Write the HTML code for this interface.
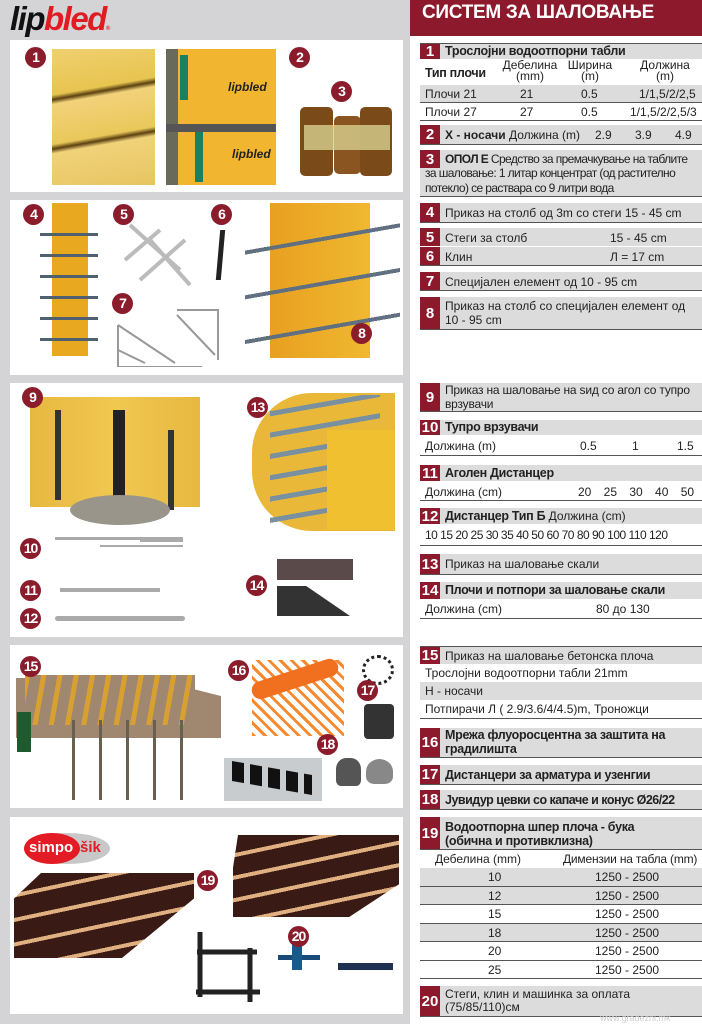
<!DOCTYPE html>
<html><head><meta charset="utf-8"><style>
*{margin:0;padding:0;box-sizing:border-box}
body{width:702px;height:1024px;position:relative;overflow:hidden;background:#fff;font-family:"Liberation Sans","DejaVu Sans",sans-serif;}
.a{position:absolute}
.lp{position:absolute;left:0;top:0;width:410px;height:1024px;background:#d4d4d6}
.pn{position:absolute;left:10px;width:393px;background:#fff}
.b{position:absolute;width:21px;height:21px;border-radius:50%;background:#8a1c2c;color:#fff;font-weight:bold;font-size:14px;text-align:center;line-height:21px;letter-spacing:-1px}
.hdr{position:absolute;left:410px;top:0;width:292px;height:36px;background:#8c1a2c;color:#fff;font-weight:bold;font-size:19px;padding:2px 0 0 12px;letter-spacing:-0.3px}
.r{position:absolute;left:420px;width:282px;font-size:12px;color:#222;white-space:nowrap}
.g{background:#dcdcdd}
.ln{border-bottom:1.5px solid #555}
.n{position:absolute;left:0;top:0;bottom:0;width:20px;background:#8c1a2c;color:#fff;font-weight:bold;font-size:15px;display:flex;align-items:center;justify-content:center}
.t{position:absolute;left:25px}
.bd{font-weight:bold;font-size:12.5px;letter-spacing:-0.3px}
</style></head><body>
<div class="lp"></div>
<div class="a" style="left:10px;top:0px;font-size:33px;font-weight:bold;font-style:italic;letter-spacing:-1.5px"><span style="color:#111">lip</span><span style="color:#e01b22">bled</span><span style="font-size:6px;color:#e01b22">®</span></div>
<div class="hdr">СИСТЕМ ЗА ШАЛОВАЊЕ</div>

<div class="pn" style="top:40px;height:152px"></div>
<div class="pn" style="top:200px;height:175px"></div>
<div class="pn" style="top:383px;height:254px"></div>
<div class="pn" style="top:645px;height:163px"></div>
<div class="pn" style="top:817px;height:197px"></div>

<div class="a" style="left:52px;top:49px;width:103px;height:136px;background:linear-gradient(170deg,#f0d070 0%,#e8c450 30%,#5a4010 33%,#f2d27a 36%,#e9c85a 62%,#5a4010 65%,#f0d27a 68%,#e6c560 100%)"></div>
<div class="a" style="left:166px;top:49px;width:110px;height:136px;background:#f2b530"></div>
<div class="a" style="left:166px;top:49px;width:12px;height:136px;background:#6a6a5a"></div>
<div class="a" style="left:166px;top:124px;width:110px;height:8px;background:#555"></div>
<div class="a" style="left:180px;top:55px;width:8px;height:45px;background:#1a8060"></div>
<div class="a" style="left:195px;top:132px;width:8px;height:50px;background:#1a8060"></div>
<div class="a" style="left:228px;top:80px;font-size:12px;font-weight:bold;font-style:italic;color:#222">lipbled</div>
<div class="a" style="left:232px;top:147px;font-size:12px;font-weight:bold;font-style:italic;color:#222">lipbled</div>
<div class="a" style="left:300px;top:107px;width:33px;height:69px;background:#7a4a18;border-radius:5px"></div>
<div class="a" style="left:334px;top:116px;width:27px;height:58px;background:#8a5520;border-radius:5px"></div>
<div class="a" style="left:360px;top:107px;width:32px;height:69px;background:#7a4a18;border-radius:5px"></div>
<div class="a" style="left:304px;top:125px;width:86px;height:25px;background:#d8d090;opacity:.8"></div>

<div class="a" style="left:52px;top:203px;width:36px;height:153px;background:#e8a820"></div>
<div class="a" style="left:40px;top:215px;width:58px;height:140px;background:repeating-linear-gradient(180deg,transparent 0 18px,#506070 18px 21px)"></div>
<svg class="a" style="left:120px;top:220px" width="80" height="70"><g stroke="#bbb" stroke-width="4" fill="none"><path d="M10 5 L60 50 M20 60 L65 20 M5 40 L40 10 M30 20 L70 65"/></g></svg>
<div class="a" style="left:218px;top:230px;width:5px;height:50px;background:#222;transform:skewX(-5deg)"></div>
<svg class="a" style="left:115px;top:305px" width="120" height="62"><g stroke="#999" stroke-width="2" fill="none"><path d="M3 20 V62 H87 M3 20 L60 58 M3 45 L30 58 M62 5 H103 V55 M62 10 L100 50"/></g></svg>
<div class="a" style="left:270px;top:203px;width:100px;height:155px;background:linear-gradient(90deg,#e8a020,#f0b830)"></div>
<div class="a" style="left:245px;top:210px;width:155px;height:145px;background:repeating-linear-gradient(170deg,transparent 0 40px,#607080 40px 44px)"></div>

<div class="a" style="left:30px;top:397px;width:170px;height:110px;background:linear-gradient(90deg,#e8b840,#f0c850 50%,#e8b840)"></div>
<div class="a" style="left:55px;top:410px;width:6px;height:90px;background:#333"></div>
<div class="a" style="left:113px;top:410px;width:12px;height:95px;background:#222"></div>
<div class="a" style="left:168px;top:430px;width:6px;height:80px;background:#333"></div>
<div class="a" style="left:70px;top:495px;width:100px;height:30px;background:#9a958a;border-radius:50%"></div>
<div class="a" style="left:252px;top:393px;width:143px;height:138px;background:#eab838;border-radius:60px 0 0 60px"></div>
<div class="a" style="left:270px;top:395px;width:110px;height:130px;background:repeating-linear-gradient(170deg,transparent 0 16px,#7890a0 16px 21px)"></div>
<div class="a" style="left:327px;top:430px;width:68px;height:100px;background:#f0c030"></div>
<div class="a" style="left:55px;top:537px;width:128px;height:3px;background:#aaa"></div>
<div class="a" style="left:100px;top:545px;width:83px;height:2px;background:#aaa"></div>
<div class="a" style="left:140px;top:540px;width:43px;height:2px;background:#aaa"></div>
<div class="a" style="left:60px;top:588px;width:100px;height:4px;background:#aaa"></div>
<div class="a" style="left:55px;top:616px;width:130px;height:5px;background:#aaa;border-radius:3px"></div>
<div class="a" style="left:277px;top:559px;width:76px;height:21px;background:#5a4a4a"></div>
<div class="a" style="left:277px;top:586px;width:73px;height:30px;background:#333;clip-path:polygon(0 0,40% 0,100% 100%,0 100%)"></div>

<div class="a" style="left:16px;top:678px;width:205px;height:60px;background:#a08870;clip-path:polygon(0 0,65% 0,100% 30%,100% 100%,0 100%)"></div>
<div class="a" style="left:25px;top:675px;width:170px;height:50px;background:repeating-linear-gradient(100deg,#d8a030 0 5px,#a08870 5px 16px)"></div>
<div class="a" style="left:48px;top:720px;width:150px;height:80px;background:repeating-linear-gradient(90deg,transparent 0 24px,#6a6050 24px 27px)"></div>
<div class="a" style="left:17px;top:712px;width:14px;height:40px;background:#1f5a2e"></div>
<div class="a" style="left:252px;top:660px;width:92px;height:76px;background:repeating-linear-gradient(45deg,#f58a30 0 3px,#fff 3px 8px)"></div>
<div class="a" style="left:250px;top:670px;width:90px;height:18px;background:#f07020;border-radius:9px;transform:rotate(-18deg)"></div>
<div class="a" style="left:362px;top:655px;width:32px;height:30px;border:3px dotted #222;border-radius:50%"></div>
<div class="a" style="left:364px;top:704px;width:30px;height:35px;background:#333;border-radius:4px"></div>
<div class="a" style="left:224px;top:758px;width:98px;height:43px;background:#c8cccf"></div>
<div class="a" style="left:232px;top:768px;width:80px;height:20px;background:repeating-linear-gradient(90deg,#111 0 12px,transparent 12px 18px);transform:skewY(10deg)"></div>
<div class="a" style="left:336px;top:758px;width:25px;height:28px;background:#555;border-radius:40% 40% 20% 20%"></div>
<div class="a" style="left:366px;top:759px;width:27px;height:25px;background:#888;border-radius:50% 50% 30% 30%"></div>

<div class="a" style="left:24px;top:833px;width:86px;height:31px;background:#c8c8c8;border-radius:50%"></div>
<div class="a" style="left:24px;top:833px;width:56px;height:31px;background:#e21b24;border-radius:50%"></div>
<div class="a" style="left:29px;top:839px;font-size:15px;font-weight:bold;color:#fff">simpo</div>
<div class="a" style="left:80px;top:839px;font-size:15px;font-weight:bold;color:#e21b24">šik</div>
<div class="a" style="left:14px;top:873px;width:180px;height:85px;background:repeating-linear-gradient(168deg,#3a1a14 0 20px,#e0b080 20px 24px);clip-path:polygon(15% 0,100% 0,100% 30%,60% 100%,0 100%,0 30%)"></div>
<div class="a" style="left:233px;top:835px;width:166px;height:82px;background:repeating-linear-gradient(168deg,#3a1a14 0 18px,#e0b080 18px 22px);clip-path:polygon(3% 0,100% 0,100% 60%,70% 100%,0 100%,0 40%)"></div>
<svg class="a" style="left:192px;top:932px" width="70" height="80"><g stroke="#222" stroke-width="5" fill="none"><path d="M8 0 V65 M5 20 H65 M4 60 H68 M58 16 V70"/></g></svg>
<div class="a" style="left:278px;top:955px;width:42px;height:5px;background:#1a4a7a"></div>
<div class="a" style="left:292px;top:945px;width:10px;height:25px;background:#1a5a8a"></div>
<div class="a" style="left:338px;top:963px;width:55px;height:7px;background:#203050"></div>

<div class="b" style="left:25px;top:47px">1</div>
<div class="b" style="left:289px;top:47px">2</div>
<div class="b" style="left:331px;top:81px">3</div>
<div class="b" style="left:23px;top:204px">4</div>
<div class="b" style="left:113px;top:204px">5</div>
<div class="b" style="left:211px;top:204px">6</div>
<div class="b" style="left:112px;top:293px">7</div>
<div class="b" style="left:351px;top:323px">8</div>
<div class="b" style="left:22px;top:387px">9</div>
<div class="b" style="left:247px;top:397px">13</div>
<div class="b" style="left:20px;top:538px">10</div>
<div class="b" style="left:20px;top:580px">11</div>
<div class="b" style="left:20px;top:608px">12</div>
<div class="b" style="left:246px;top:575px">14</div>
<div class="b" style="left:20px;top:656px">15</div>
<div class="b" style="left:228px;top:660px">16</div>
<div class="b" style="left:357px;top:680px">17</div>
<div class="b" style="left:317px;top:734px">18</div>
<div class="b" style="left:197px;top:870px">19</div>
<div class="b" style="left:288px;top:926px">20</div>

<div class="r g" style="top:43px;height:16px;border-top:1px solid #555"><div class="n">1</div><div class="t bd" style="top:0">Трослојни водоотпорни табли</div></div>
<div class="r" style="top:59px;height:26px"><div class="a bd" style="left:5px;top:7px">Тип плочи</div><div class="a" style="left:75px;top:1px;width:70px;text-align:center;line-height:11px">Дебелина<br>(mm)</div><div class="a" style="left:140px;top:1px;width:60px;text-align:center;line-height:11px">Ширина<br>(m)</div><div class="a" style="left:205px;top:1px;width:80px;text-align:center;line-height:11px">Должина<br>(m)</div></div>
<div class="r g ln" style="top:85px;height:18px"><span class="a" style="left:5px;top:2px">Плочи 21</span><span class="a" style="left:100px;top:2px">21</span><span class="a" style="left:161px;top:2px">0.5</span><span class="a" style="left:219px;top:2px">1/1,5/2/2,5</span></div>
<div class="r ln" style="top:103px;height:18px"><span class="a" style="left:5px;top:2px">Плочи 27</span><span class="a" style="left:100px;top:2px">27</span><span class="a" style="left:161px;top:2px">0.5</span><span class="a" style="left:210px;top:2px">1/1,5/2/2,5/3</span></div>
<div class="r g ln" style="top:125px;height:20px"><div class="n">2</div><span class="t" style="top:3px"><b>Х - носачи</b> Должина (m)</span><span class="a" style="left:175px;top:3px">2.9</span><span class="a" style="left:215px;top:3px">3.9</span><span class="a" style="left:255px;top:3px">4.9</span></div>
<div class="r g ln" style="top:150px;height:47px"><div class="n" style="bottom:auto;height:18px">3</div><div class="t" style="top:2px;line-height:14.5px;letter-spacing:-0.6px"><b>ОПОЛ Е</b> Средство за премачкување на таблите</div><div class="a" style="left:5px;top:16px;line-height:14.5px;letter-spacing:-0.6px">за шаловање: 1 литар концентрат (од растително<br>потекло) се раствара со 9 литри вода</div></div>
<div class="r g ln" style="top:203px;height:20px"><div class="n">4</div><span class="t" style="top:3px">Приказ на столб од 3m со стеги 15 - 45 cm</span></div>
<div class="r g" style="top:228px;height:19px;border-bottom:1px solid #fff"><div class="n">5</div><span class="t" style="top:3px">Стеги за столб</span><span class="a" style="left:190px;top:3px">15 - 45 cm</span></div>
<div class="r g ln" style="top:247px;height:19px"><div class="n">6</div><span class="t" style="top:3px">Клин</span><span class="a" style="left:190px;top:3px">Л = 17 cm</span></div>
<div class="r g ln" style="top:272px;height:19px"><div class="n">7</div><span class="t" style="top:3px">Специјален елемент од 10 - 95 cm</span></div>
<div class="r g ln" style="top:297px;height:33px"><div class="n">8</div><div class="t" style="top:2px;line-height:14px">Приказ на столб со специјален елемент од<br>10 - 95 cm</div></div>

<div class="r g ln" style="top:383px;height:29px"><div class="n">9</div><div class="t" style="top:1px;line-height:13.5px;letter-spacing:-0.2px">Приказ на шаловање на ѕид со агол со тупро<br>врзувачи</div></div>
<div class="r g" style="top:420px;height:15px"><div class="n">10</div><span class="t bd" style="top:0">Тупро врзувачи</span></div>
<div class="r ln" style="top:435px;height:21px"><span class="a" style="left:5px;top:4px">Должина (m)</span><span class="a" style="left:160px;top:4px">0.5</span><span class="a" style="left:212px;top:4px">1</span><span class="a" style="left:257px;top:4px">1.5</span></div>
<div class="r g" style="top:465px;height:16px"><div class="n">11</div><span class="t bd" style="top:1px">Аголен Дистанцер</span></div>
<div class="r ln" style="top:481px;height:20px"><span class="a" style="left:5px;top:4px">Должина (cm)</span><span class="a" style="left:158px;top:4px;word-spacing:9px">20 25 30 40 50</span></div>
<div class="r g" style="top:508px;height:16px"><div class="n">12</div><span class="t" style="top:1px"><b class="bd">Дистанцер Тип Б</b> Должина (cm)</span></div>
<div class="r ln" style="top:524px;height:22px"><span class="a" style="left:5px;top:4px;letter-spacing:-0.5px">10 15 20 25 30 35 40 50 60 70 80 90 100 110 120</span></div>
<div class="r g ln" style="top:554px;height:21px"><div class="n">13</div><span class="t" style="top:3px">Приказ на шаловање скали</span></div>
<div class="r g" style="top:582px;height:17px"><div class="n">14</div><span class="t bd" style="top:1px">Плочи и потпори за шаловање скали</span></div>
<div class="r ln" style="top:599px;height:20px"><span class="a" style="left:5px;top:3px">Должина (cm)</span><span class="a" style="left:176px;top:3px">80 до 130</span></div>

<div class="r g" style="top:646px;height:18px;border-top:1px solid #555"><div class="n">15</div><span class="t" style="top:2px">Приказ на шаловање бетонска плоча</span></div>
<div class="r" style="top:664px;height:18px"><span class="a" style="left:5px;top:2px">Трослојни водоотпорни табли 21mm</span></div>
<div class="r g" style="top:682px;height:18px"><span class="a" style="left:5px;top:2px">Н - носачи</span></div>
<div class="r ln" style="top:700px;height:19px"><span class="a" style="left:5px;top:2px">Потпирачи Л ( 2.9/3.6/4/4.5)m, Троножци</span></div>
<div class="r g ln" style="top:728px;height:30px"><div class="n">16</div><div class="t bd" style="top:1px;line-height:13.5px">Мрежа флуоросцентна за заштита на<br>градилишта</div></div>
<div class="r g ln" style="top:765px;height:20px"><div class="n">17</div><span class="t bd" style="top:3px">Дистанцери за арматура и узенгии</span></div>
<div class="r g ln" style="top:790px;height:20px"><div class="n">18</div><span class="t bd" style="top:3px;letter-spacing:-0.5px">Јувидур цевки со капаче и конус Ø26/22</span></div>
<div class="r g ln" style="top:817px;height:33px"><div class="n">19</div><div class="t bd" style="top:3px;line-height:14px">Водоотпорна шпер плоча - бука<br>(обична и противклизна)</div></div>
<div class="r" style="top:850px;height:18px"><span class="a" style="left:15px;top:2px">Дебелина (mm)</span><span class="a" style="left:143px;top:2px;letter-spacing:-0.2px">Димензии на табла (mm)</span></div>
<div class="r g ln" style="top:868px;height:18.5px"><span class="a" style="left:68px;top:2px">10</span><span class="a" style="left:175px;top:2px">1250 - 2500</span></div>
<div class="r g ln" style="top:886.5px;height:18.5px"><span class="a" style="left:68px;top:2px">12</span><span class="a" style="left:175px;top:2px">1250 - 2500</span></div>
<div class="r ln" style="top:905px;height:18.5px"><span class="a" style="left:68px;top:2px">15</span><span class="a" style="left:175px;top:2px">1250 - 2500</span></div>
<div class="r g ln" style="top:923.5px;height:18.5px"><span class="a" style="left:68px;top:2px">18</span><span class="a" style="left:175px;top:2px">1250 - 2500</span></div>
<div class="r ln" style="top:942px;height:18.5px"><span class="a" style="left:68px;top:2px">20</span><span class="a" style="left:175px;top:2px">1250 - 2500</span></div>
<div class="r ln" style="top:960.5px;height:18.5px"><span class="a" style="left:68px;top:2px">25</span><span class="a" style="left:175px;top:2px">1250 - 2500</span></div>
<div class="r g ln" style="top:986px;height:31px"><div class="n">20</div><div class="t" style="top:2px;line-height:13px">Стеги, клин и машинка за оплата<br>(75/85/110)см</div></div>
<div class="a" style="left:600px;top:1013px;font-size:9px;color:#ccc">www.gradezni.mk</div>
</body></html>
